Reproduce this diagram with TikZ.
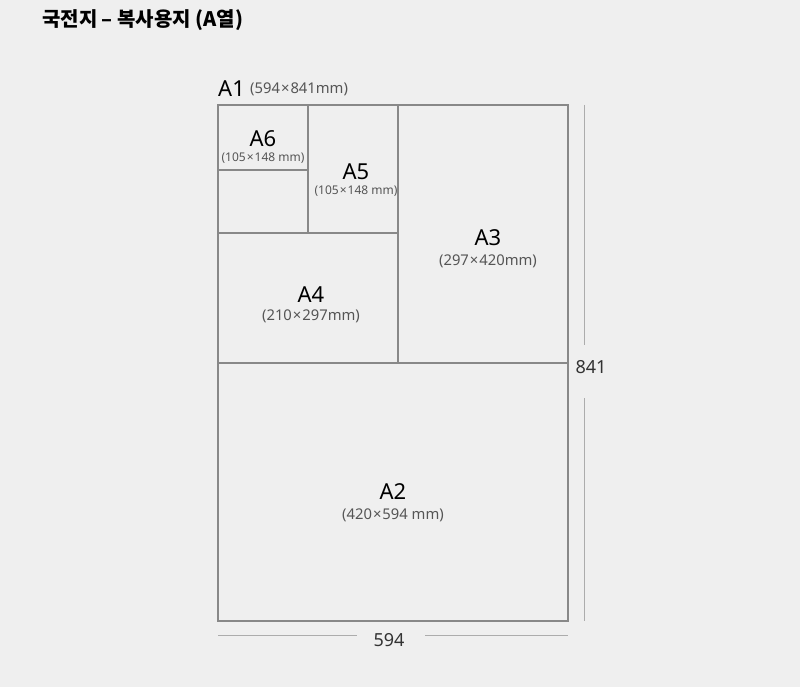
\documentclass[tikz,border=0pt]{standalone}
\usepackage{fontspec}
\setmainfont{Noto Sans}
\newfontfamily\hangul{Noto Sans CJK KR}
\definecolor{paperbg}{HTML}{EFEFEF}
\definecolor{edge}{HTML}{888888}
\definecolor{subgray}{HTML}{555555}
\newcommand\bytimes{\kern1pt×\kern1pt}

\begin{document}
\begin{tikzpicture}[x=1pt,y=-1pt,
  paper/.style={draw=edge,line width=1.1pt},
  dimline/.style={draw=edge!70,line width=0.9pt},
  sizename/.style={font=\fontsize{22}{22}\selectfont,text=black,inner sep=0pt},
  smallmm/.style={font=\fontsize{12}{12}\selectfont,text=subgray,inner sep=0pt},
  bigmm/.style={font=\fontsize{14.8}{14.8}\selectfont,text=subgray,inner sep=0pt},
  dimtext/.style={font=\fontsize{18}{18}\selectfont,text=black!80,inner sep=0pt},
  heading/.style={font=\hangul\fontsize{20}{20}\selectfont\bfseries,text=black,inner sep=0pt,anchor=west}]
\fill[paperbg] (0,0) rectangle (800,687);
\useasboundingbox (0,0) rectangle (800,687);

\node[heading] (title) at (42,20) {국전지 – 복사용지 (A열)};

\coordinate (nw) at (218,105);
\coordinate (se) at (568,621);
\draw[paper] (nw) rectangle (se);
\draw[paper] (218,363) -- (568,363);
\draw[paper] (398,105) -- (398,363);
\draw[paper] (218,233) -- (398,233);
\draw[paper] (308,105) -- (308,233);
\draw[paper] (218,170) -- (308,170);

\node[sizename,anchor=west] (a1) at (218,89) {A1};
\node[bigmm,anchor=west] (a1mm) at (250,89) {(594\bytimes841mm)};
\node[sizename] (a6) at (263,139) {A6};
\node[smallmm] (a6mm) at (263,158) {(105\bytimes148 mm)};
\node[sizename] (a5) at (356,172) {A5};
\node[smallmm] (a5mm) at (356,191) {(105\bytimes148 mm)};
\node[sizename] (a3) at (488,238) {A3};
\node[bigmm] (a3mm) at (488,261) {(297\bytimes420mm)};
\node[sizename] (a4) at (311,295) {A4};
\node[bigmm] (a4mm) at (311,316) {(210\bytimes297mm)};
\node[sizename] (a2) at (393,492) {A2};
\node[bigmm] (a2mm) at (393,515) {(420\bytimes594 mm)};

\node[dimtext] (height) at (591,367) {841};
\coordinate (vtop) at (584,105);
\coordinate (vmid1) at (584,345);
\coordinate (vmid2) at (584,398);
\coordinate (vbot) at (584,621);
\draw[dimline] (vtop) -- (vmid1);
\draw[dimline] (vmid2) -- (vbot);

\node[dimtext] (width) at (389,640) {594};
\coordinate (hleft) at (218,635);
\coordinate (hmid1) at (357,635);
\coordinate (hmid2) at (425,635);
\coordinate (hright) at (568,635);
\draw[dimline] (hleft) -- (hmid1);
\draw[dimline] (hmid2) -- (hright);
\end{tikzpicture}
\end{document}
